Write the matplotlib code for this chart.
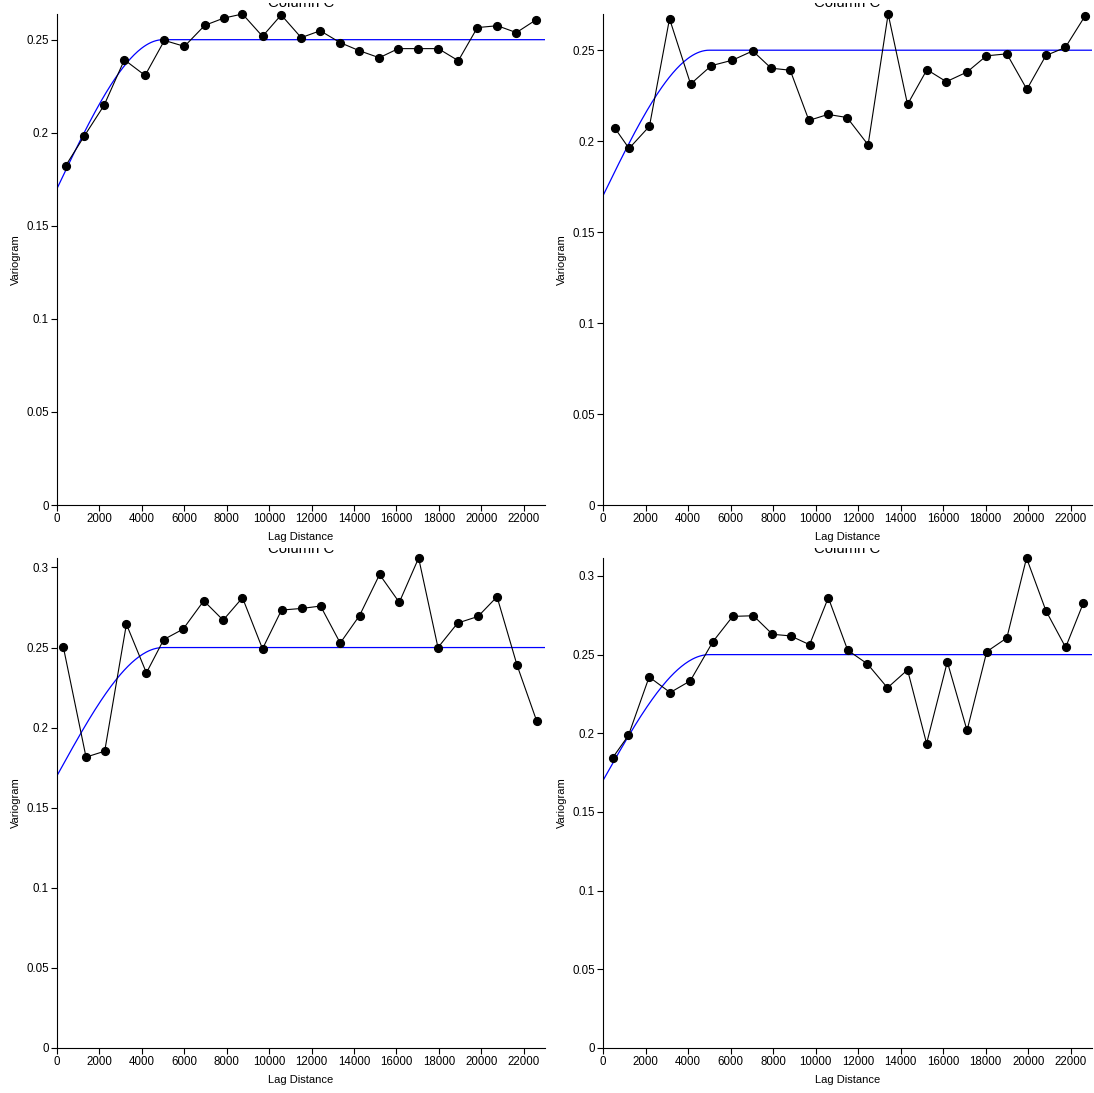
import numpy as np
import matplotlib
matplotlib.use('Agg')
import matplotlib.pyplot as plt
from matplotlib.transforms import Bbox

plt.rcParams['font.family'] = ['Liberation Sans', 'DejaVu Sans']

# lag distances and experimental variogram values per panel
lag_a = [410, 1274, 2217, 3176, 4151, 5063, 6006, 6965, 7862, 8742, 9686, 10566, 11509,
         12406, 13349, 14245, 15189, 16085, 17028, 17972, 18915, 19811, 20755, 21651, 22594]
gam_a = [0.1823, 0.198, 0.2147, 0.2392, 0.2308, 0.2496, 0.2464, 0.2577, 0.2616, 0.2638, 0.2518,
         0.2633, 0.2511, 0.2548, 0.2484, 0.2441, 0.2403, 0.2452, 0.2452, 0.2452, 0.2387, 0.2565,
         0.2575, 0.2538, 0.2608]

lag_b = [566, 1226, 2185, 3129, 4120, 5094, 6085, 7044, 7909, 8805, 9686, 10582, 11478,
         12469, 13412, 14324, 15236, 16148, 17123, 18035, 18994, 19937, 20833, 21745, 22673]
gam_b = [0.207, 0.196, 0.2082, 0.2673, 0.2314, 0.2415, 0.2445, 0.2496, 0.2401, 0.239, 0.2114,
         0.2147, 0.213, 0.198, 0.2699, 0.2202, 0.2393, 0.2327, 0.238, 0.2469, 0.248, 0.2285,
         0.2471, 0.2515, 0.2688]

lag_c = [299, 1368, 2248, 3271, 4214, 5031, 5943, 6918, 7830, 8742, 9686, 10582, 11525,
         12422, 13349, 14261, 15204, 16132, 17044, 17956, 18884, 19843, 20739, 21682, 22609]
gam_c = [0.2503, 0.1816, 0.1853, 0.2646, 0.2342, 0.255, 0.2615, 0.2792, 0.2671, 0.2811, 0.2492,
         0.2734, 0.2744, 0.2759, 0.2528, 0.27, 0.2956, 0.2782, 0.3059, 0.25, 0.2653, 0.2694,
         0.2817, 0.239, 0.2041]

lag_d = [457, 1195, 2170, 3160, 4104, 5173, 6101, 7075, 7972, 8821, 9717, 10597, 11509,
         12437, 13380, 14324, 15220, 16195, 17123, 18051, 18994, 19921, 20833, 21760, 22594]
gam_d = [0.1845, 0.1986, 0.2358, 0.2259, 0.2333, 0.2583, 0.2743, 0.2747, 0.2629, 0.2619, 0.2563,
         0.2862, 0.2528, 0.2441, 0.2289, 0.2403, 0.1935, 0.2454, 0.2018, 0.2519, 0.2606, 0.3114,
         0.2779, 0.2546, 0.2828]

# spherical model
nugget = 0.17
sill = 0.25
rng = 5000
xmax = 23000

titles = ['Column C', 'Column C', 'Column C', 'Column C']

W, H = 1094, 1093
fig = plt.figure(figsize=(W / 100, H / 100), dpi=100)

# axes boxes in pixels: left, right, top, bottom
boxes = [(57, 545, 14, 505), (603, 1092, 14, 505),
         (57, 545, 558, 1048), (603, 1092, 558, 1048)]
panels = [(lag_a, gam_a), (lag_b, gam_b), (lag_c, gam_c), (lag_d, gam_d)]
# title baselines and clip tops (pixels from top), the titles are cut in the original
title_base = [7, 7, 553, 553]
clip_top = [3, 3, 548, 548]

h = np.linspace(0, xmax, 400)
model = np.where(h < rng, nugget + (sill - nugget) * (1.5 * h / rng - 0.5 * (h / rng) ** 3), sill)

for i, ((l, r, t, b), (lag, gam)) in enumerate(zip(boxes, panels)):
    ax = fig.add_axes([l / W, (H - b) / H, (r - l) / W, (b - t) / H])
    ax.plot(h, model, color='#0000ff', lw=0.9, zorder=2)
    ax.plot(lag, gam, color='black', lw=0.8, marker='o', ms=5.6, clip_on=False, zorder=3)
    ax.set_xlim(0, xmax)
    ax.set_ylim(0, max(gam))
    ax.set_xticks(np.arange(0, 22001, 2000))
    yt = np.arange(0, max(gam) + 1e-9, 0.05)
    ax.set_yticks(yt)
    ax.set_yticklabels(['%g' % round(v, 2) for v in yt])
    for s in ['top', 'right']:
        ax.spines[s].set_visible(False)
    for s in ['left', 'bottom']:
        ax.spines[s].set_linewidth(0.8)
        ax.spines[s].set_color('black')
    ax.tick_params(direction='out', length=4.3, width=0.8, labelsize=8.3, pad=1.5, colors='black')
    ax.set_xlabel('Lag Distance', fontsize=8, labelpad=5)
    ax.set_ylabel('Variogram', fontsize=8, labelpad=4)
    ax.patch.set_alpha(0)

    cx = (l + r) / 2 / W
    txt = fig.text(cx, 1 - title_base[i] / H, titles[i], ha='center', va='baseline',
                   fontsize=10.7, color='black')
    txt.set_clip_box(Bbox.from_extents(0, 0, W, H - clip_top[i]))
    txt.set_clip_on(True)

fig.savefig('out.png', dpi=100)
